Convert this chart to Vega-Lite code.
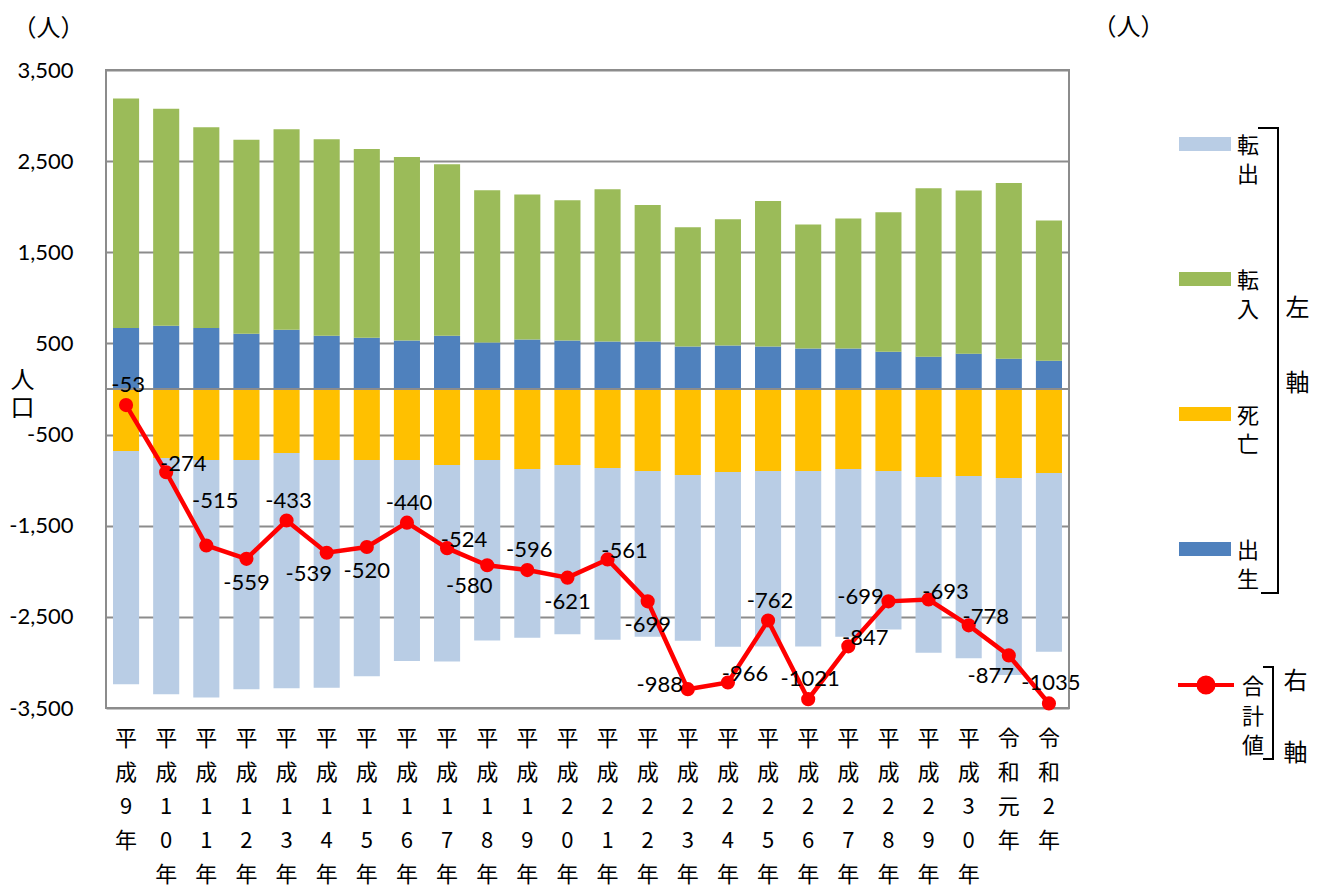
{
  "$schema": "https://vega.github.io/schema/vega-lite/v6.json",
  "width": 963,
  "height": 638,
  "autosize": {"type": "none"},
  "padding": {"left": 106, "top": 70, "right": 255, "bottom": 179},
  "background": "white",
  "config": {
    "font": "Lato, Noto Sans CJK JP, sans-serif",
    "locale": {"number": {"decimal": ".", "thousands": ",", "grouping": [3], "currency": ["", ""], "minus": "-"}},
    "view": {"stroke": "#8c8c8c", "strokeWidth": 2},
    "axis": {"labelFont": "Lato", "labelFontSize": 22, "labelColor": "#000000", "titleColor": "#000000", "titleFontWeight": "normal", "ticks": false, "domain": false, "gridColor": "#8c8c8c", "gridWidth": 2, "labelOverlap": false, "labelFlush": false},
    "legend": {"labelFont": "Noto Sans CJK JP", "labelFontSize": 22, "labelColor": "#000000"}
  },
  "datasets": {
    "pop": [
      {"年": "平成9年", "出生": 670, "転入": 2516, "死亡": -680, "転出": -2559, "合計値": -53},
      {"年": "平成10年", "出生": 695, "転入": 2381, "死亡": -757, "転出": -2593, "合計値": -274},
      {"年": "平成11年", "出生": 670, "転入": 2201, "死亡": -779, "転出": -2607, "合計値": -515},
      {"年": "平成12年", "出生": 607, "転入": 2129, "死亡": -779, "転出": -2516, "合計値": -559},
      {"年": "平成13年", "出生": 651, "転入": 2198, "死亡": -702, "転出": -2580, "合計値": -433},
      {"年": "平成14年", "出生": 585, "転入": 2155, "死亡": -779, "転出": -2500, "合計値": -539},
      {"年": "平成15年", "出生": 563, "転入": 2070, "死亡": -779, "転出": -2374, "合計値": -520},
      {"年": "平成16年", "出生": 531, "転入": 2014, "死亡": -779, "転出": -2206, "合計値": -440},
      {"年": "平成17年", "出生": 585, "転入": 1880, "死亡": -834, "転出": -2155, "合計値": -524},
      {"年": "平成18年", "出生": 509, "転入": 1671, "死亡": -779, "転出": -1981, "合計値": -580},
      {"年": "平成19年", "出生": 542, "転入": 1591, "死亡": -878, "転出": -1851, "合計値": -596},
      {"年": "平成20年", "出生": 531, "転入": 1539, "死亡": -834, "転出": -1857, "合計値": -621},
      {"年": "平成21年", "出生": 520, "転入": 1671, "死亡": -867, "転出": -1885, "合計値": -561},
      {"年": "平成22年", "出生": 520, "転入": 1499, "死亡": -900, "転出": -1818, "合計値": -699},
      {"年": "平成23年", "出生": 465, "転入": 1309, "死亡": -943, "転出": -1819, "合計値": -988},
      {"年": "平成24年", "出生": 476, "転入": 1386, "死亡": -911, "転出": -1917, "合計値": -966},
      {"年": "平成25年", "出生": 465, "転入": 1598, "死亡": -900, "転出": -1925, "合計値": -762},
      {"年": "平成26年", "出生": 443, "転入": 1361, "死亡": -900, "転出": -1925, "合計値": -1021},
      {"年": "平成27年", "出生": 443, "転入": 1427, "死亡": -878, "転出": -1839, "合計値": -847},
      {"年": "平成28年", "出生": 410, "転入": 1529, "死亡": -900, "転出": -1738, "合計値": -699},
      {"年": "平成29年", "出生": 355, "転入": 1847, "死亡": -965, "転出": -1930, "合計値": -693},
      {"年": "平成30年", "出生": 388, "転入": 1789, "死亡": -954, "転出": -2001, "合計値": -778},
      {"年": "令和元年", "出生": 333, "転入": 1927, "死亡": -976, "転出": -2161, "合計値": -877},
      {"年": "令和2年", "出生": 311, "転入": 1537, "死亡": -921, "転出": -1962, "合計値": -1035}
    ]
  },
  "data": {"name": "pop"},
  "layer": [
    {
      "layer": [
        {
          "transform": [{"fold": ["出生", "転入", "死亡", "転出"], "as": ["区分", "人数"]}],
          "mark": {"type": "bar"},
          "encoding": {
            "x": {
              "field": "年", "type": "nominal", "sort": null,
              "scale": {"paddingInner": 0.35, "paddingOuter": 0.175},
              "axis": {"orient": "bottom", "title": null, "labelAngle": 0, "labelExpr": "split(datum.label, '')", "labelLineHeight": 34, "labelBaseline": "top", "labelAlign": "center", "labelPadding": 20, "labelFont": "Noto Sans CJK JP", "labelFontSize": 22, "grid": false}
            },
            "y": {
              "field": "人数", "type": "quantitative", "stack": "zero",
              "scale": {"domain": [-3500, 3500], "nice": false, "zero": false},
              "axis": {"orient": "left", "values": [-3500, -2500, -1500, -500, 500, 1500, 2500, 3500], "format": ",d", "labelPadding": 33, "grid": true, "title": ["人", "口"], "titleAngle": 0, "titleX": -84, "titleY": 298, "titleAlign": "center", "titleBaseline": "top", "titleLineHeight": 28, "titleFont": "Noto Sans CJK JP", "titleFontSize": 24}
            },
            "fill": {
              "field": "区分", "type": "nominal",
              "scale": {"domain": ["転出", "転入", "死亡", "出生"], "range": ["#B9CDE5", "#9BBB59", "#FFC000", "#4F81BD"]},
              "legend": {
                "orient": "none", "legendX": 1071, "legendY": 58, "padding": 2,
                "title": "■", "titleOrient": "right", "titlePadding": 0, "titleFont": "Noto Sans CJK JP", "titleFontSize": 16, "titleColor": "transparent",
                "symbolType": "M-1,-0.27H1V0.27H-1Z", "symbolSize": 2704, "symbolStrokeWidth": 0,
                "labelExpr": "[slice(datum.label, 0, 1), slice(datum.label, 1)]",
                "labelBaseline": "alphabetic", "labelOffset": 6, "labelFontSize": 22,
                "rowPadding": 79, "strokeColor": "#000000",
                "encode": {
                  "symbols": {"update": {"y": {"value": 14}}},
                  "labels": {"update": {"y": {"value": 14}, "lineHeight": {"value": 29}, "dy": {"value": 9}}},
                  "legend": {"update": {"strokeWidth": {"value": 2}, "strokeDash": {"value": [0, 81, 502, 700]}}}
                }
              }
            },
            "order": {"field": "区分", "sort": "ascending"}
          }
        },
        {
          "data": {"values": [{}]},
          "mark": {"type": "rule", "color": "#8c8c8c", "strokeWidth": 2},
          "encoding": {"y": {"datum": 0}}
        }
      ]
    },
    {
      "layer": [
        {
          "mark": {"type": "line", "strokeWidth": 4.5},
          "encoding": {
            "x": {"field": "年", "type": "nominal", "sort": null,
              "axis": {"orient": "top", "labels": false, "grid": false, "title": "（人）", "titleX": -58, "titleY": -42, "titleAngle": 0, "titleAlign": "center", "titleBaseline": "middle", "titleFont": "Noto Sans CJK JP", "titleFontSize": 24}},
            "y": {"field": "合計値", "type": "quantitative",
              "scale": {"domain": [-1050, 1050], "nice": false, "zero": false},
              "axis": {"orient": "right", "values": [-1050, -750, -450, -150, 150, 450, 750, 1050], "format": ",d", "labelPadding": 27, "grid": false, "title": ["合", "計", "値"], "titleAngle": 0, "titleX": 95, "titleY": 240, "titleAlign": "center", "titleBaseline": "top", "titleLineHeight": 31, "titleFont": "Noto Sans CJK JP", "titleFontSize": 24}},
            "stroke": {"datum": "合計値", "type": "nominal",
              "scale": {"range": ["#FF0000"]},
              "legend": {
                "orient": "none", "legendX": 1068, "legendY": 597, "padding": 2,
                "title": "■", "titleOrient": "right", "titlePadding": 0, "titleFont": "Noto Sans CJK JP", "titleFontSize": 6, "titleColor": "transparent",
                "symbolType": "M-1,0H1M-0.27,0A0.27,0.27,0,1,1,0.27,0A0.27,0.27,0,1,1,-0.27,0Z",
                "symbolSize": 3136, "symbolStrokeWidth": 4, "symbolFillColor": "#FF0000",
                "labelExpr": "[slice(datum.label, 0, 1), slice(datum.label, 1, 2), slice(datum.label, 2)]",
                "labelBaseline": "alphabetic", "labelOffset": 6, "labelFontSize": 22, "strokeColor": "#000000",
                "encode": {
                  "symbols": {"update": {"fill": {"value": "#FF0000"}, "y": {"value": 16}}},
                  "labels": {"update": {"y": {"value": 16}, "lineHeight": {"value": 29.5}, "dy": {"value": 9}}},
                  "legend": {"update": {"strokeWidth": {"value": 2}, "strokeDash": {"value": [0, 89, 112, 300]}}}
                }
              }
            }
          }
        },
        {
          "mark": {"type": "point", "filled": true, "size": 200, "opacity": 1, "color": "#FF0000"},
          "encoding": {
            "x": {"field": "年", "type": "nominal", "sort": null,
              "axis": {"orient": "top", "labels": false, "grid": false, "title": "（人）", "titleX": 1022, "titleY": -43, "titleAngle": 0, "titleAlign": "center", "titleBaseline": "middle", "titleFont": "Noto Sans CJK JP", "titleFontSize": 24}},
            "y": {"field": "合計値", "type": "quantitative", "axis": null}
          }
        },
        {
          "transform": [{"filter": {"field": "年", "oneOf": ["平成9年", "平成13年", "平成16年", "平成19年", "平成25年", "平成26年", "令和2年"]}}],
          "mark": {"type": "text", "fontSize": 22, "font": "Lato", "color": "#000000", "dx": 2, "dy": -20},
          "encoding": {
            "x": {"field": "年", "type": "nominal", "sort": null,
              "axis": {"orient": "top", "labels": false, "grid": false, "title": ["左", "軸"], "titleX": 1191, "titleY": 226, "titleAngle": 0, "titleAlign": "center", "titleBaseline": "top", "titleLineHeight": 75, "titleFont": "Noto Sans CJK JP", "titleFontSize": 24}},
            "y": {"field": "合計値", "type": "quantitative", "axis": null},
            "text": {"field": "合計値", "type": "quantitative", "format": "d"}
          }
        },
        {
          "transform": [{"filter": {"field": "年", "oneOf": ["平成12年", "平成15年", "平成20年", "平成22年"]}}],
          "mark": {"type": "text", "fontSize": 22, "font": "Lato", "color": "#000000", "dy": 24},
          "encoding": {
            "x": {"field": "年", "type": "nominal", "sort": null,
              "axis": {"orient": "top", "labels": false, "grid": false, "title": ["右", "軸"], "titleX": 1189, "titleY": 599, "titleAngle": 0, "titleAlign": "center", "titleBaseline": "top", "titleLineHeight": 72, "titleFont": "Noto Sans CJK JP", "titleFontSize": 24}},
            "y": {"field": "合計値", "type": "quantitative", "axis": null},
            "text": {"field": "合計値", "type": "quantitative", "format": "d"}
          }
        },
        {
          "transform": [{"filter": {"field": "年", "oneOf": ["平成14年", "平成18年", "令和元年"]}}],
          "mark": {"type": "text", "fontSize": 22, "font": "Lato", "color": "#000000", "dx": -18, "dy": 21},
          "encoding": {
            "x": {"field": "年", "type": "nominal", "sort": null, "axis": null},
            "y": {"field": "合計値", "type": "quantitative", "axis": null},
            "text": {"field": "合計値", "type": "quantitative", "format": "d"}
          }
        },
        {
          "transform": [{"filter": {"field": "年", "oneOf": ["平成10年", "平成17年", "平成21年", "平成24年", "平成27年", "平成29年", "平成30年"]}}],
          "mark": {"type": "text", "fontSize": 22, "font": "Lato", "color": "#000000", "dx": 17, "dy": -8},
          "encoding": {
            "x": {"field": "年", "type": "nominal", "sort": null, "axis": null},
            "y": {"field": "合計値", "type": "quantitative", "axis": null},
            "text": {"field": "合計値", "type": "quantitative", "format": "d"}
          }
        },
        {
          "transform": [{"filter": {"field": "年", "oneOf": ["平成23年", "平成28年"]}}],
          "mark": {"type": "text", "fontSize": 22, "font": "Lato", "color": "#000000", "dx": -28, "dy": -4},
          "encoding": {
            "x": {"field": "年", "type": "nominal", "sort": null, "axis": null},
            "y": {"field": "合計値", "type": "quantitative", "axis": null},
            "text": {"field": "合計値", "type": "quantitative", "format": "d"}
          }
        },
        {
          "transform": [{"filter": {"field": "年", "oneOf": ["平成11年"]}}],
          "mark": {"type": "text", "fontSize": 22, "font": "Lato", "color": "#000000", "dx": 9, "dy": -44},
          "encoding": {
            "x": {"field": "年", "type": "nominal", "sort": null, "axis": null},
            "y": {"field": "合計値", "type": "quantitative", "axis": null},
            "text": {"field": "合計値", "type": "quantitative", "format": "d"}
          }
        }
      ],
      "resolve": {"axis": {"x": "independent"}}
    }
  ],
  "resolve": {"scale": {"y": "independent"}, "axis": {"x": "independent"}}
}
